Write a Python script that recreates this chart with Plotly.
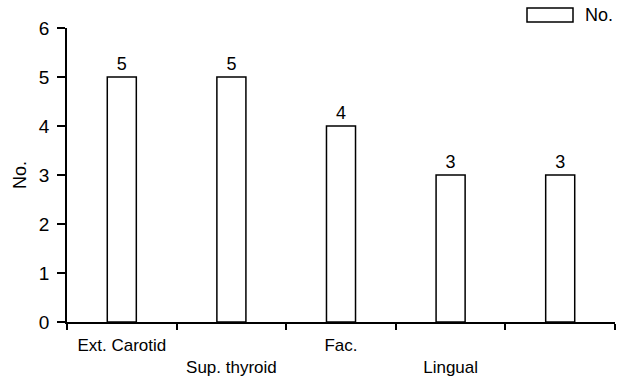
import plotly.graph_objects as go

categories = ["Ext. Carotid", "Sup. thyroid", "Fac.", "Lingual", "Other"]
tick_labels = ["Ext. Carotid", "<br>Sup. thyroid", "Fac.", "<br>Lingual", ""]
values = [5, 5, 4, 3, 3]
y_ticks = [0, 1, 2, 3, 4, 5, 6]

FONT = "Liberation Sans, Arial, Helvetica, sans-serif"

fig = go.Figure()
fig.add_trace(go.Bar(
    x=categories, y=values,
    width=0.265,
    marker=dict(color="white", line=dict(color="black", width=1.5)),
    text=[str(v) for v in values],
    textposition="outside",
    textfont=dict(size=18, color="black", family=FONT),
    cliponaxis=False,
    showlegend=False,
    name="No.",
))

fig.update_layout(
    width=626, height=379,
    margin=dict(l=67, r=11, t=28, b=57),
    paper_bgcolor="white", plot_bgcolor="white",
    font=dict(family=FONT, color="black"),
    xaxis=dict(
        type="category",
        range=[-0.5, 4.5],
        tickmode="array", tickvals=categories, ticktext=tick_labels,
        tickson="boundaries", ticks="outside", ticklen=6, tickwidth=1.5, tickcolor="black",
        showline=True, linecolor="black", linewidth=1.5,
        showgrid=False, zeroline=False,
        tickfont=dict(size=17, family=FONT, color="black"),
        tickangle=0,
        ticklabelstandoff=7,
        automargin=False,
    ),
    yaxis=dict(
        range=[0, 6],
        tickvals=y_ticks,
        ticks="outside", ticklen=8, tickwidth=1.5, tickcolor="black",
        showline=True, linecolor="black", linewidth=1.5,
        showgrid=False, zeroline=False,
        tickfont=dict(size=19, family=FONT, color="black"),
        ticklabelstandoff=4,
        automargin=False,
        title=dict(text="No.", font=dict(size=18, family=FONT, color="black"), standoff=8),
    ),
    showlegend=False,
)

# manual legend
fig.add_shape(type="rect", xref="paper", yref="paper",
              x0=(527 - 67) / 548, x1=(573 - 67) / 548,
              y0=(322 - 22) / 294, y1=(322 - 8) / 294,
              line=dict(color="black", width=1.5), fillcolor="white")
fig.add_annotation(xref="paper", yref="paper",
                   x=(583 - 67) / 548, y=(322 - 15) / 294,
                   text="No.", showarrow=False, xanchor="left", yanchor="middle",
                   font=dict(size=18, family=FONT, color="black"))

fig.write_html("out.html")
